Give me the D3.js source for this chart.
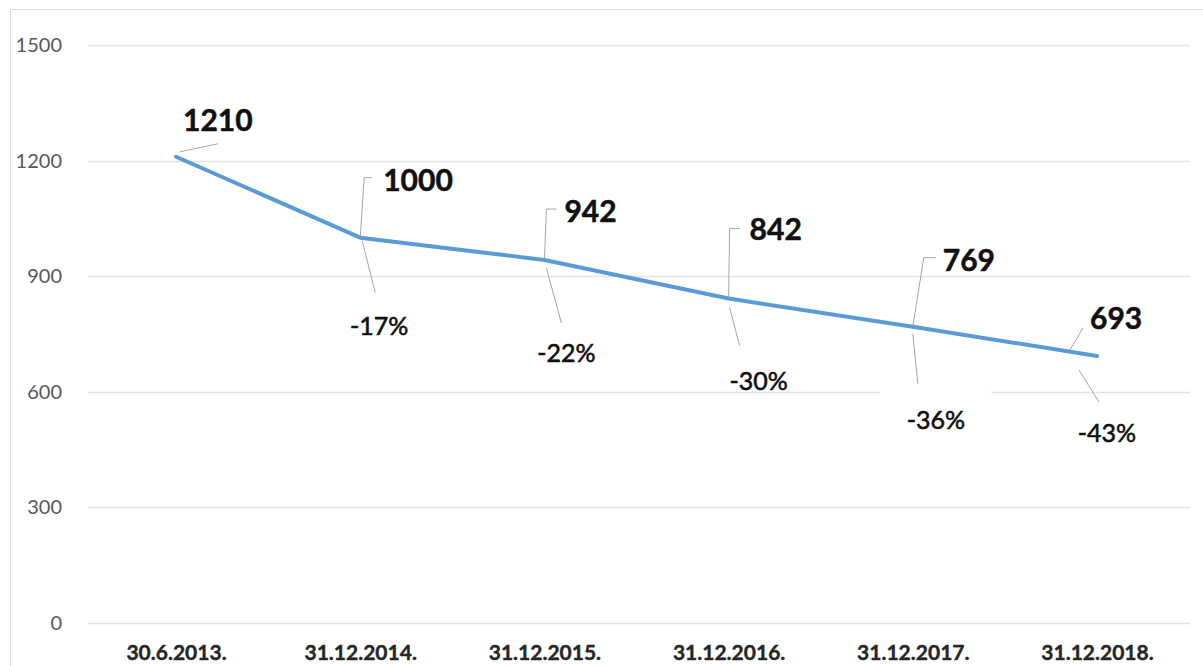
<!DOCTYPE html>
<html>
<head>
<meta charset="utf-8">
<script src="https://cdn.jsdelivr.net/npm/d3@7"></script>
<style>
  html, body { margin: 0; padding: 0; background: #fff; }
  svg { display: block; font-family: Lato, "Open Sans", sans-serif; }
</style>
</head>
<body>
<div id="chart"></div>
<script>
/* =========================
   DATA
   ========================= */

const dates = ["30.6.2013.", "31.12.2014.", "31.12.2015.", "31.12.2016.", "31.12.2017.", "31.12.2018."];
const values = [1210, 1000, 942, 842, 769, 693];
const changes = [null, -17, -22, -30, -36, -43];   // % vs 30.6.2013.
const yTicks = [0, 300, 600, 900, 1200, 1500];

/* =========================
   LAYOUT
   ========================= */

const WIDTH = 1203;
const HEIGHT = 666;

// label offsets from the point: value label (vx, vy), change label (cx, cy),
// leader polylines up / down
const labelLayout = [
  { vx: 7,   vy: -37, up: [[4, -5], [42, -13]] },
  { vx: 23,  vy: -57, up: [[0, 0], [4, -60], [12, -60]], cx: 19, cy: 88, down: [[2, 3], [15, 55]] },
  { vx: 20,  vy: -49, up: [[0, 0], [2, -51], [12, -51]], cx: 22, cy: 93, down: [[2, 8], [17, 63]] },
  { vx: 21,  vy: -69, up: [[0, 0], [1, -70], [11, -70]], cx: 30, cy: 82, down: [[1, 9], [11, 47]] },
  { vx: 30,  vy: -66, up: [[0, 0], [11, -69], [23, -69]], cx: 23, cy: 93, down: [[0, 7], [5, 57]], gap: true },
  { vx: -7,  vy: -38, up: [[-27, -6], [-14, -28]], cx: 10, cy: 77, down: [[-18, 14], [2, 46]] }
];

const x = d3.scalePoint()
  .domain(dates)
  .range([176, 1097]);

const y = d3.scaleLinear()
  .domain([0, 1500])
  .range([623, 45]);

/* =========================
   SVG
   ========================= */

const svg = d3.select("#chart")
  .append("svg")
  .attr("width", WIDTH)
  .attr("height", HEIGHT);

svg.append("rect")
  .attr("width", WIDTH)
  .attr("height", HEIGHT)
  .attr("fill", "#fff");

// chart frame (only top/left visible)
svg.append("rect")
  .attr("x", 10.5)
  .attr("y", 9.5)
  .attr("width", 1220)
  .attr("height", 700)
  .attr("fill", "none")
  .attr("stroke", "#dcdcdc");

// grid
svg.append("g")
  .selectAll("line")
  .data(yTicks)
  .enter()
  .append("line")
  .attr("x1", 88)
  .attr("x2", 1190)
  .attr("y1", d => Math.round(y(d)) + 0.5)
  .attr("y2", d => Math.round(y(d)) + 0.5)
  .attr("stroke", "#e3e3e3")
  .attr("stroke-width", 1.5);

// y labels
const yAxis = d3.axisLeft(y).tickValues(yTicks).tickFormat(d3.format("d")).tickSize(0).tickPadding(0);
svg.append("g")
  .attr("transform", "translate(62,0)")
  .call(yAxis)
  .call(g => g.select(".domain").remove())
  .selectAll("text")
  .attr("font-family", "Lato, sans-serif")
  .attr("font-size", 20)
  .attr("fill", "#595959");

// x labels
const xAxis = d3.axisBottom(x).tickSize(0).tickPadding(0);
svg.append("g")
  .attr("transform", "translate(0,645)")
  .call(xAxis)
  .call(g => g.select(".domain").remove())
  .selectAll("text")
  .attr("font-family", "Lato, sans-serif")
  .attr("font-size", 21)
  .attr("font-weight", 700)
  .attr("fill", "#262626")
  .attr("stroke", "#262626")
  .attr("stroke-width", 0.4);

/* =========================
   LINE
   ========================= */

const points = dates.map((d, i) => ({ date: d, value: values[i], change: changes[i], lay: labelLayout[i] }));

const line = d3.line()
  .x(d => x(d.date))
  .y(d => y(d.value));

const leader = d3.line();

const gLabels = svg.append("g");

points.forEach(p => {
  const px = x(p.date);
  const py = y(p.value);
  const L = p.lay;

  // white box breaking the gridline behind the change label
  if (L.gap) {
    gLabels.append("rect")
      .attr("x", px + L.cx - 56)
      .attr("y", py + L.cy - 33)
      .attr("width", 112)
      .attr("height", 50)
      .attr("fill", "#fff");
  }

  gLabels.append("path")
    .attr("d", leader(L.up.map(([a, b]) => [px + a, py + b])))
    .attr("fill", "none")
    .attr("stroke", "#a6a6a6")
    .attr("stroke-width", 1);

  if (L.down) {
    gLabels.append("path")
      .attr("d", leader(L.down.map(([a, b]) => [px + a, py + b])))
      .attr("fill", "none")
      .attr("stroke", "#a6a6a6")
      .attr("stroke-width", 1);
  }
});

svg.append("path")
  .datum(points)
  .attr("d", line)
  .attr("fill", "none")
  .attr("stroke", "#5b9bd5")
  .attr("stroke-width", 4)
  .attr("stroke-linecap", "round")
  .attr("stroke-linejoin", "round");

// value + change labels
points.forEach(p => {
  const px = x(p.date);
  const py = y(p.value);
  const L = p.lay;

  svg.append("text")
    .attr("x", px + L.vx)
    .attr("y", py + L.vy)
    .attr("dy", "0.36em")
    .attr("font-size", 30)
    .attr("font-weight", 700)
    .attr("fill", "#111")
    .attr("stroke", "#111")
    .attr("stroke-width", 0.5)
    .text(p.value);

  if (p.change !== null) {
    svg.append("text")
      .attr("x", px + L.cx)
      .attr("y", py + L.cy)
      .attr("dy", "0.36em")
      .attr("text-anchor", "middle")
      .attr("font-size", 25)
      .attr("fill", "#111")
      .attr("stroke", "#111")
      .attr("stroke-width", 0.6)
      .text(p.change + "%");
  }
});
</script>
</body>
</html>
